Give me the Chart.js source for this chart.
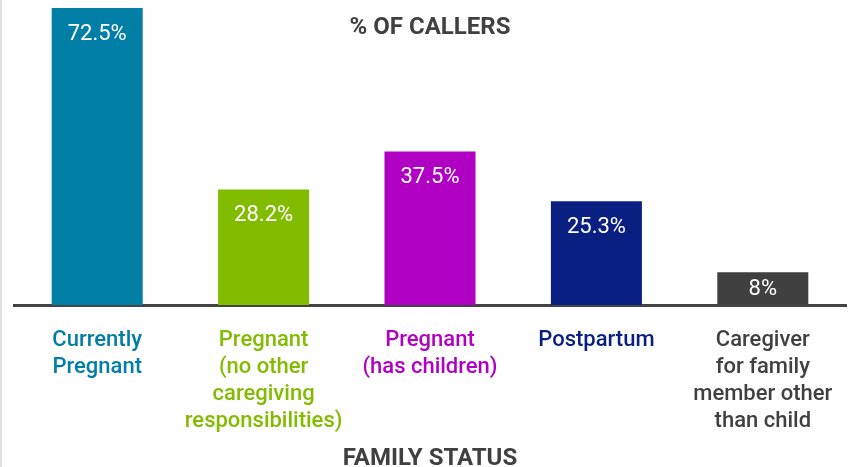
<!DOCTYPE html>
<html>
<head>
<meta charset="utf-8">
<script src="https://cdn.jsdelivr.net/npm/chart.js@4"></script>
<style>
  html, body { margin: 0; padding: 0; background: #fff; }
  #wrap { position: relative; width: 848px; height: 467px; border-left: 2px solid #e2e2e2; box-sizing: border-box; }
</style>
</head>
<body>
<div id="wrap"><canvas id="familyChart"></canvas></div>
<script>
const categories = [
  ['Currently', 'Pregnant'],
  ['Pregnant', '(no other', 'caregiving', 'responsibilities)'],
  ['Pregnant', '(has children)'],
  ['Postpartum'],
  ['Caregiver', 'for family', 'member other', 'than child']
];
const callerShare = [72.5, 28.2, 37.5, 25.3, 8];
const valueLabels = ['72.5%', '28.2%', '37.5%', '25.3%', '8%'];
const barColors = ['#007ea5', '#82bc00', '#b000c4', '#0a1f82', '#404040'];

const fontFamily = 'Roboto, "Noto Sans", sans-serif';

// values inside the bars + the top heading
const barLabels = {
  id: 'barLabels',
  afterDatasetsDraw(chart) {
    const ctx = chart.ctx;
    const meta = chart.getDatasetMeta(0);
    ctx.save();
    ctx.fillStyle = '#ffffff';
    ctx.font = '22px ' + fontFamily;
    ctx.textAlign = 'center';
    ctx.textBaseline = 'middle';
    meta.data.forEach((bar, i) => {
      const y = Math.min(bar.y + 26, (bar.y + bar.base) / 2 + 1);
      ctx.fillText(valueLabels[i], bar.x, y);
    });
    const area = chart.chartArea;
    ctx.fillStyle = '#404040';
    ctx.font = 'bold 24px ' + fontFamily;
    ctx.fillText('% OF CALLERS', (area.left + area.right) / 2, area.top + 20);
    ctx.restore();
  }
};

const ctxFamily = document.getElementById('familyChart').getContext('2d');
new Chart(ctxFamily, {
  type: 'bar',
  data: {
    labels: categories,
    datasets: [{
      data: callerShare,
      backgroundColor: barColors,
      borderWidth: 0,
      barPercentage: 0.547,
      categoryPercentage: 1,
    }],
  },
  options: {
    responsive: true,
    maintainAspectRatio: false,
    animation: false,
    layout: { padding: { left: 12, right: 2, top: 8, bottom: 0 } },
    plugins: {
      legend: { display: false },
      tooltip: { enabled: false },
    },
    scales: {
      y: {
        display: false,
        min: 0,
        max: 72.5,
      },
      x: {
        afterFit(scale) { scale.height = 162; },
        border: { display: true, color: '#444444', width: 3 },
        grid: { display: false },
        ticks: {
          color: barColors,
          font: { family: fontFamily, size: 22, weight: '500', lineHeight: 1.23 },
          padding: 14,
          maxRotation: 0,
          autoSkip: false,
        },
        title: {
          display: true,
          text: 'FAMILY STATUS',
          color: '#404040',
          font: { family: fontFamily, size: 24, weight: 'bold', lineHeight: 1 },
          padding: { top: 0, bottom: -4 },
        },
      },
    },
  },
  plugins: [barLabels],
});
</script>
</body>
</html>
